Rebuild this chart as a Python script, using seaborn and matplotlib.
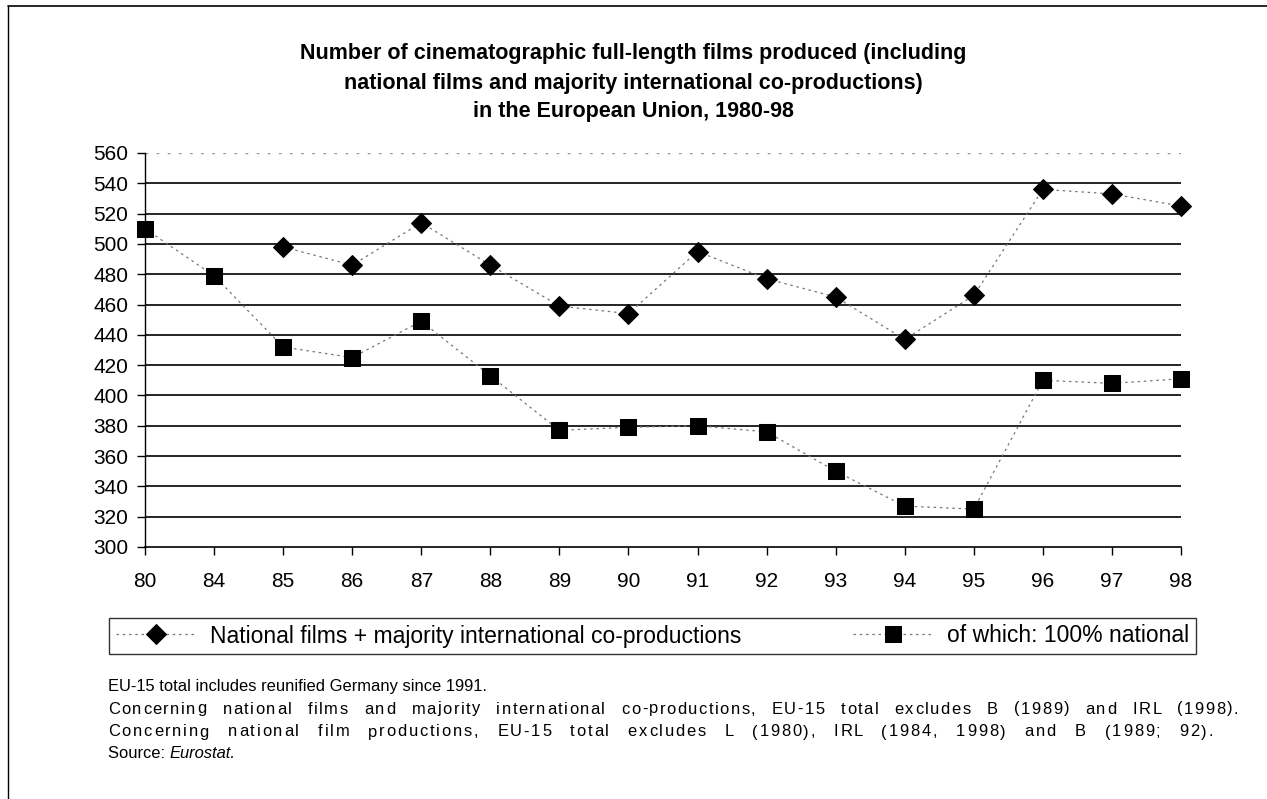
import numpy as np
import pandas as pd
import matplotlib
matplotlib.use("Agg")
import matplotlib.pyplot as plt
import seaborn as sns

years = ["80", "84", "85", "86", "87", "88", "89", "90", "91", "92",
         "93", "94", "95", "96", "97", "98"]
national_coprod = [np.nan, np.nan, 498, 486, 514, 486, 459, 454, 495, 477,
                   465, 437, 466, 536, 533, 525]
national_100 = [510, 479, 432, 425, 449, 413, 377, 379, 380, 376,
                350, 327, 325, 410, 408, 411]
label_coprod = "National films + majority international co-productions"
label_100 = "of which: 100% national"

title = ("Number of cinematographic full-length films produced (including\n"
         "national films and majority international co-productions)\n"
         "in the European Union, 1980-98")
notes = [
    "EU-15 total includes reunified Germany since 1991.",
    "Concerning national films and majority international co-productions, "
    "EU-15 total excludes B (1989) and IRL (1998).",
    "Concerning national film productions, EU-15 total excludes L (1980), "
    "IRL (1984, 1998) and B (1989; 92).",
]

df = pd.DataFrame({"pos": range(len(years)), "coprod": national_coprod,
                   "nat": national_100})

sns.set_style("white")
plt.rcParams["font.family"] = ["Liberation Sans", "DejaVu Sans"]
plt.rcParams["text.color"] = "black"
plt.rcParams["xtick.color"] = "black"
plt.rcParams["ytick.color"] = "black"

W, H = 1267, 799
fig = plt.figure(figsize=(W / 100, H / 100), dpi=100)
ax = fig.add_axes([145 / W, 1 - 547 / H, 1036 / W, 394 / H])

sns.lineplot(data=df, x="pos", y="coprod", ax=ax, color="#777777",
             linewidth=0.9, linestyle=(0, (2, 3)), marker="D", markersize=10,
             markerfacecolor="black", markeredgecolor="black",
             label=label_coprod, clip_on=False)
sns.lineplot(data=df, x="pos", y="nat", ax=ax, color="#777777",
             linewidth=0.9, linestyle=(0, (2, 3)), marker="s", markersize=12,
             markerfacecolor="black", markeredgecolor="black",
             label=label_100, clip_on=False)

ax.set_xlim(0, len(years) - 1)
ax.set_ylim(300, 560)
ax.set_yticks(range(300, 561, 20))
ax.set_xticks(range(len(years)))
ax.set_xticklabels(years)
ax.set_xlabel("")
ax.set_ylabel("")
ax.tick_params(axis="both", labelsize=15, length=6, width=1, color="black",
               direction="out", bottom=True, left=True)
ax.tick_params(axis="x", pad=12)
ax.tick_params(axis="y", pad=6)

for v in range(320, 541, 20):
    ax.axhline(v, color="black", linewidth=1.2, zorder=0)
ax.axhline(560, color="#999999", linewidth=1, linestyle=(0, (2, 6)), zorder=0)

for s in ["top", "right"]:
    ax.spines[s].set_visible(False)
ax.spines["left"].set_color("black")
ax.spines["left"].set_linewidth(1)
ax.spines["bottom"].set_color("black")
ax.spines["bottom"].set_linewidth(1.2)

fig.text(0.5, 1 - 83 / H, title, ha="center", va="center", fontsize=15.5,
         fontweight="bold", linespacing=1.5)

leg = ax.legend(loc="center", bbox_to_anchor=((652.5 - 145) / 1036,
                                              (547 - 636) / 394),
                ncol=2, fontsize=16.5, frameon=True, fancybox=False,
                edgecolor="black", columnspacing=4.9, handlelength=3.5,
                borderpad=0.3, handletextpad=0.6)
leg.get_frame().set_linewidth(1)

# footnotes; lines 2-3 are stretched to a right margin like the source
fig.canvas.draw()
rend = fig.canvas.get_renderer()
x0 = 108
ys = [686, 709, 732, 754]
ends = [None, 1238, 1213]
fs = 11.9


def text_width(s):
    t = fig.text(0, 0, s + "x", fontsize=fs)
    w = t.get_window_extent(rend).width
    t.remove()
    return w


wx = text_width("")
for line, yp, xend in zip(notes, ys, ends):
    if xend is None:
        fig.text(x0 / W, 1 - yp / H, line, fontsize=fs, va="center")
        continue
    base = [text_width(line[:i]) - wx for i in range(len(line) + 1)]
    n_sp = line.count(" ")
    n_gap = len(line) - 1
    extra = (xend - x0 - base[-1]) / (n_gap + 6 * n_sp)
    shift = 0.0
    for i, ch in enumerate(line):
        if i > 0:
            shift += extra * (7 if line[i - 1] == " " else 1)
        if ch != " ":
            fig.text((x0 + base[i] + shift) / W, 1 - yp / H, ch, fontsize=fs,
                     va="center")
t = fig.text(x0 / W, 1 - ys[3] / H, "Source: ", fontsize=fs, va="center")
bb = t.get_window_extent(rend)
fig.text(bb.x1 / W, 1 - ys[3] / H, "Eurostat.", fontsize=fs, va="center",
         style="italic")

fig.add_artist(plt.Line2D([8 / W, 1], [1 - 6 / H, 1 - 6 / H],
                          transform=fig.transFigure, color="black", lw=1.2))
fig.add_artist(plt.Line2D([8 / W, 8 / W], [0, 1 - 6 / H],
                          transform=fig.transFigure, color="black", lw=1))

fig.savefig("out.png", dpi=100)
